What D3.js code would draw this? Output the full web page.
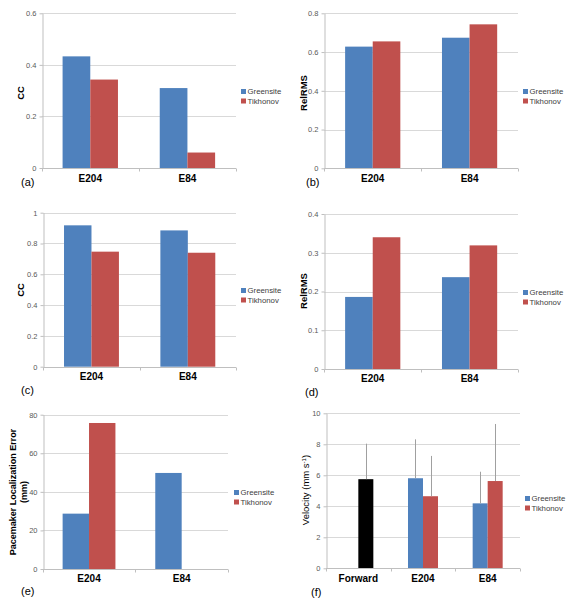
<!DOCTYPE html>
<html><head><meta charset="utf-8">
<script src="https://cdn.jsdelivr.net/npm/d3@7"></script>
<style>
body{margin:0;background:#fff}
svg{display:block;font-family:"Liberation Sans",Arial,sans-serif}
</style>
</head><body><svg id="c" width="576" height="600"></svg>
<script>
// ---------- data ----------
const seriesNames = ["Greensite", "Tikhonov"];
const seriesColors = ["#4f81bd", "#c0504d"];
const forwardColor = "#000000";

const catsAB = ["E204", "E84"];
const ccA_greensite = [0.433, 0.31];
const ccA_tikhonov = [0.343, 0.06];
const ccA_ticks = [0, 0.2, 0.4, 0.6];

const relB_greensite = [0.628, 0.674];
const relB_tikhonov = [0.655, 0.743];
const relB_ticks = [0, 0.2, 0.4, 0.6, 0.8];

const ccC_greensite = [0.918, 0.885];
const ccC_tikhonov = [0.747, 0.740];
const ccC_ticks = [0, 0.2, 0.4, 0.6, 0.8, 1];

const relD_greensite = [0.186, 0.237];
const relD_tikhonov = [0.340, 0.319];
const relD_ticks = [0, 0.1, 0.2, 0.3, 0.4];

const pleE_greensite = [28.7, 49.8];
const pleE_tikhonov = [75.7, null];
const pleE_ticks = [0, 20, 40, 60, 80];

const catsF = ["Forward", "E204", "E84"];
const velF_forward = [5.75, null, null];
const velF_forwardErr = [2.29, null, null];
const velF_greensite = [null, 5.81, 4.19];
const velF_greensiteErr = [null, 2.51, 2.04];
const velF_tikhonov = [null, 4.65, 5.63];
const velF_tikhonovErr = [null, 2.60, 3.68];
const velF_ticks = [0, 2, 4, 6, 8, 10];

// ---------- drawing ----------
const svg = d3.select("#c");
const gridColor = "#d9d9d9";
const axisColor = "#bfbfbf";
const tickTextColor = "#595959";

function panel(o) {
  const g = svg.append("g");
  const ymax = d3.max(o.ticks);
  const y = d3.scaleLinear().domain([0, ymax]).range([o.B, o.T]);
  const x = d3.scaleBand().domain(o.cats).range([o.L, o.R])
    .paddingInner(o.pad).paddingOuter(o.pad / 2);
  const xs = d3.scaleBand().domain([0, 1]).range([0, x.bandwidth()]);

  // gridlines
  g.selectAll("line.grid").data(o.ticks.filter(t => t > 0)).join("line")
    .attr("x1", o.L).attr("x2", o.R)
    .attr("y1", d => Math.round(y(d)) + 0.5).attr("y2", d => Math.round(y(d)) + 0.5)
    .attr("stroke", gridColor).attr("stroke-width", 1);

  // y axis
  const ya = g.append("g").attr("transform", `translate(${Math.round(o.L) + 0.5},0)`)
    .call(d3.axisLeft(y).tickValues(o.ticks).tickSize(3).tickSizeOuter(0).tickPadding(3)
      .tickFormat(d => String(d)));
  ya.select(".domain").attr("stroke", axisColor);
  ya.selectAll(".tick line").attr("stroke", axisColor);
  ya.selectAll(".tick text").attr("fill", tickTextColor)
    .style("font-size", "7.5px").style("font-family", '"Liberation Sans",Arial,sans-serif');

  // bars
  o.series.forEach(s => {
    s.values.forEach((v, i) => {
      if (v == null) return;
      const bx = x(o.cats[i]) + xs(s.slot);
      g.append("rect").attr("x", bx).attr("width", xs.bandwidth())
        .attr("y", y(v)).attr("height", o.B - y(v)).attr("fill", s.color);
      if (s.err && s.err[i] != null) {
        const cx = Math.round(bx + xs.bandwidth() / 2) + 0.5;
        g.append("line").attr("x1", cx).attr("x2", cx)
          .attr("y1", y(v)).attr("y2", y(v + s.err[i]))
          .attr("stroke", "#a0a0a0").attr("stroke-width", 1);
      }
    });
  });

  // x axis line and ticks
  const by = Math.round(o.B) + 0.5;
  g.append("line").attr("x1", o.L).attr("x2", o.R).attr("y1", by).attr("y2", by)
    .attr("stroke", axisColor);
  const step = x.step();
  d3.range(o.cats.length + 1).forEach(i => {
    const tx = Math.round(o.L + i * step) + 0.5;
    g.append("line").attr("x1", tx).attr("x2", tx).attr("y1", by).attr("y2", by + 3)
      .attr("stroke", axisColor);
  });

  // category labels
  g.selectAll("text.cat").data(o.cats).join("text")
    .attr("x", d => x(d) + x.bandwidth() / 2).attr("y", o.catY)
    .attr("text-anchor", "middle").attr("font-weight", "bold")
    .attr("font-size", "10px").attr("fill", "#000").text(d => d);

  // y title
  const t = g.append("text")
    .attr("transform", `translate(${o.titleX},${o.titleY}) rotate(-90)`)
    .attr("text-anchor", "middle").attr("font-size", o.titleSize || "9.5px")
    .attr("font-weight", o.titleWeight || "bold").attr("fill", "#000");
  o.title(t);

  // legend
  seriesNames.forEach((n, i) => {
    const ly = o.legY + i * 9.5;
    g.append("rect").attr("x", o.legX).attr("y", ly - 5).attr("width", 5).attr("height", 5)
      .attr("fill", seriesColors[i]);
    g.append("text").attr("x", o.legX + 6.5).attr("y", ly)
      .attr("font-size", "7.8px").attr("fill", "#404040").text(n);
  });

  // panel label
  g.append("text").attr("x", o.labX).attr("y", o.labY).attr("font-size", "11px")
    .attr("fill", "#000").text(o.label);
}

const two = (a, b) => [
  { values: a, color: seriesColors[0], slot: 0 },
  { values: b, color: seriesColors[1], slot: 1 }
];

panel({ L: 41.7, R: 236, T: 13.3, B: 168, cats: catsAB, pad: 0.43, ticks: ccA_ticks,
  series: two(ccA_greensite, ccA_tikhonov), catY: 182,
  titleX: 24, titleY: 93, title: t => t.text("CC"),
  legX: 241, legY: 94, label: "(a)", labX: 21, labY: 186 });

panel({ L: 324.3, R: 518, T: 13.3, B: 168.3, cats: catsAB, pad: 0.43, ticks: relB_ticks,
  series: two(relB_greensite, relB_tikhonov), catY: 182,
  titleX: 306.5, titleY: 93, title: t => t.text("RelRMS"),
  legX: 523, legY: 94, label: "(b)", labX: 306, labY: 186 });

panel({ L: 43.3, R: 236, T: 212.7, B: 366.7, cats: catsAB, pad: 0.43, ticks: ccC_ticks,
  series: two(ccC_greensite, ccC_tikhonov), catY: 380,
  titleX: 24, titleY: 290, title: t => t.text("CC"),
  legX: 241, legY: 293, label: "(c)", labX: 21, labY: 394 });

panel({ L: 324.3, R: 518, T: 214, B: 369, cats: catsAB, pad: 0.43, ticks: relD_ticks,
  series: two(relD_greensite, relD_tikhonov), catY: 382,
  titleX: 306.5, titleY: 291, title: t => t.text("RelRMS"),
  legX: 523, legY: 295, label: "(d)", labX: 305, labY: 396 });

panel({ L: 42.7, R: 228, T: 414.7, B: 569, cats: catsAB, pad: 0.43, ticks: pleE_ticks,
  series: two(pleE_greensite, pleE_tikhonov), catY: 582,
  titleX: 16, titleY: 492, titleSize: "9px",
  title: t => {
    t.append("tspan").attr("x", 0).attr("dy", 0).text("Pacemaker Localization Error");
    t.append("tspan").attr("x", 0).attr("dy", 11.3).text("(mm)");
  },
  legX: 234, legY: 495, label: "(e)", labX: 21, labY: 595 });

panel({ L: 326, R: 520, T: 413.3, B: 568.3, cats: catsF, pad: 0.536, ticks: velF_ticks,
  series: [
    { values: velF_forward, err: velF_forwardErr, color: forwardColor, slot: 1 },
    { values: velF_greensite, err: velF_greensiteErr, color: seriesColors[0], slot: 0 },
    { values: velF_tikhonov, err: velF_tikhonovErr, color: seriesColors[1], slot: 1 }
  ], catY: 582,
  titleX: 308.5, titleY: 490, titleWeight: "normal", titleSize: "9.5px",
  title: t => {
    t.append("tspan").text("Velocity (mm s");
    t.append("tspan").attr("font-size", "6px").attr("baseline-shift", "super").text("-1");
    t.append("tspan").text(")");
  },
  legX: 525, legY: 501, label: "(f)", labX: 311, labY: 596 });
</script>
</body></html>
